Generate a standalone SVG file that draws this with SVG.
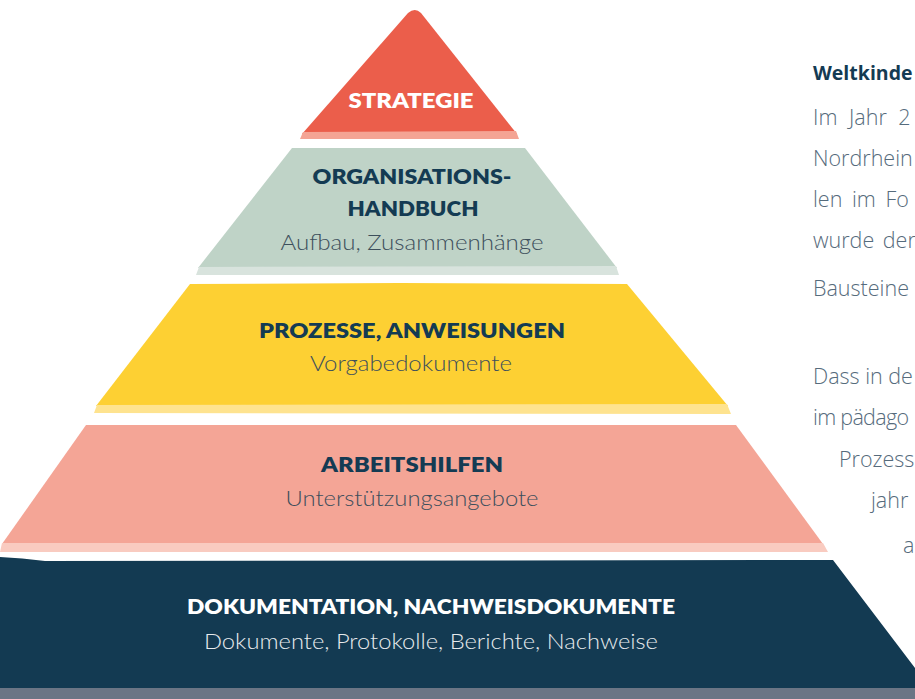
<svg xmlns="http://www.w3.org/2000/svg" width="915" height="699" viewBox="0 0 915 699">
<style>
.h{font-family:"Source Sans Pro","Lato","Open Sans","Liberation Sans",sans-serif;font-weight:800;font-size:21px;fill:#143b53;text-anchor:middle}
.s{font-family:"Source Sans Pro","Lato","Open Sans","Liberation Sans",sans-serif;font-weight:300;font-size:21px;fill:#3d4f5c;text-anchor:middle}
.w{fill:#ffffff}
.sl{fill:#e6eaed}
.r{font-family:"Open Sans","Noto Sans","Liberation Sans",sans-serif;font-size:21.5px;font-weight:300;fill:#566b7c}
.rb{font-family:"Open Sans","Noto Sans","Liberation Sans",sans-serif;font-size:19.5px;font-weight:700;fill:#143b53}
</style>
<rect width="915" height="699" fill="#ffffff"/>
<g id="strategie">
<path d="M302,134 L408,13 Q415,7 421,13 L517,134 Z" fill="#eb5e4b"/>
<path d="M303,132 L516,131 L519,139 L300,139 Z" fill="#f4a494"/>
<text class="h w" x="411" y="108" textLength="125" lengthAdjust="spacingAndGlyphs">STRATEGIE</text>
</g>
<g id="organisationshandbuch">
<path d="M292,148 L525,148 L617,268 L198,268 Z" fill="#bfd3c7"/>
<path d="M199,267 L616,266 L619,275 L196,275 Z" fill="#d8e3dd"/>
<text class="h" x="412" y="184" textLength="199" lengthAdjust="spacingAndGlyphs">ORGANISATIONS-</text>
<text class="h" x="413" y="216" textLength="131" lengthAdjust="spacingAndGlyphs">HANDBUCH</text>
<text class="s" x="412" y="250" textLength="263" lengthAdjust="spacingAndGlyphs">Aufbau, Zusammenhänge</text>
</g>
<g id="prozesse">
<path d="M190,284 L400,283 L627,284 L728,406 L96,406 Z" fill="#fdd033"/>
<path d="M97,405 L727,404 L731,414 L94,413 Z" fill="#fee38f"/>
<text class="h" x="412" y="338" textLength="306" lengthAdjust="spacingAndGlyphs">PROZESSE, ANWEISUNGEN</text>
<text class="s" x="411" y="371" textLength="202" lengthAdjust="spacingAndGlyphs">Vorgabedokumente</text>
</g>
<g id="arbeitshilfen">
<path d="M86,425 L736,425 L823,544 L2,544 Z" fill="#f4a596"/>
<path d="M2,543 L823,543 L828,552 L0,552 Z" fill="#f9cbc0"/>
<text class="h" x="412" y="472" textLength="182" lengthAdjust="spacingAndGlyphs">ARBEITSHILFEN</text>
<text class="s" x="412" y="506" textLength="253" lengthAdjust="spacingAndGlyphs">Unterstützungsangebote</text>
</g>
<g id="dokumentation">
<path d="M0,557 Q22,558 45,561 L833,560 L915,668 L915,699 L0,699 Z" fill="#133a52"/>
<path d="M0,688 L915,688 L915,699 L0,699 Z" fill="#6b7585"/>
<text class="h w" x="431" y="614" textLength="488" lengthAdjust="spacingAndGlyphs">DOKUMENTATION, NACHWEISDOKUMENTE</text>
<text class="s sl" x="431" y="649" textLength="454" lengthAdjust="spacingAndGlyphs">Dokumente, Protokolle, Berichte, Nachweise</text>
</g>
<g id="seitentext">
<text class="rb" x="813" y="80">Weltkinde</text>
<text class="r" x="813" y="125" word-spacing="6">Im Jahr 2</text>
<text class="r" x="813" y="166">Nordrhein</text>
<text class="r" x="813" y="207" word-spacing="4">len im Fo</text>
<text class="r" x="813" y="248" word-spacing="3">wurde der</text>
<text class="r" x="813" y="296">Bausteine</text>
<text class="r" x="813" y="384">Dass in de</text>
<text class="r" x="813" y="425" letter-spacing="-0.7">im pädago</text>
<text class="r" x="839" y="467">Prozess</text>
<text class="r" x="871" y="508">jahr</text>
<text class="r" x="903" y="553">a</text>
</g>
</svg>
